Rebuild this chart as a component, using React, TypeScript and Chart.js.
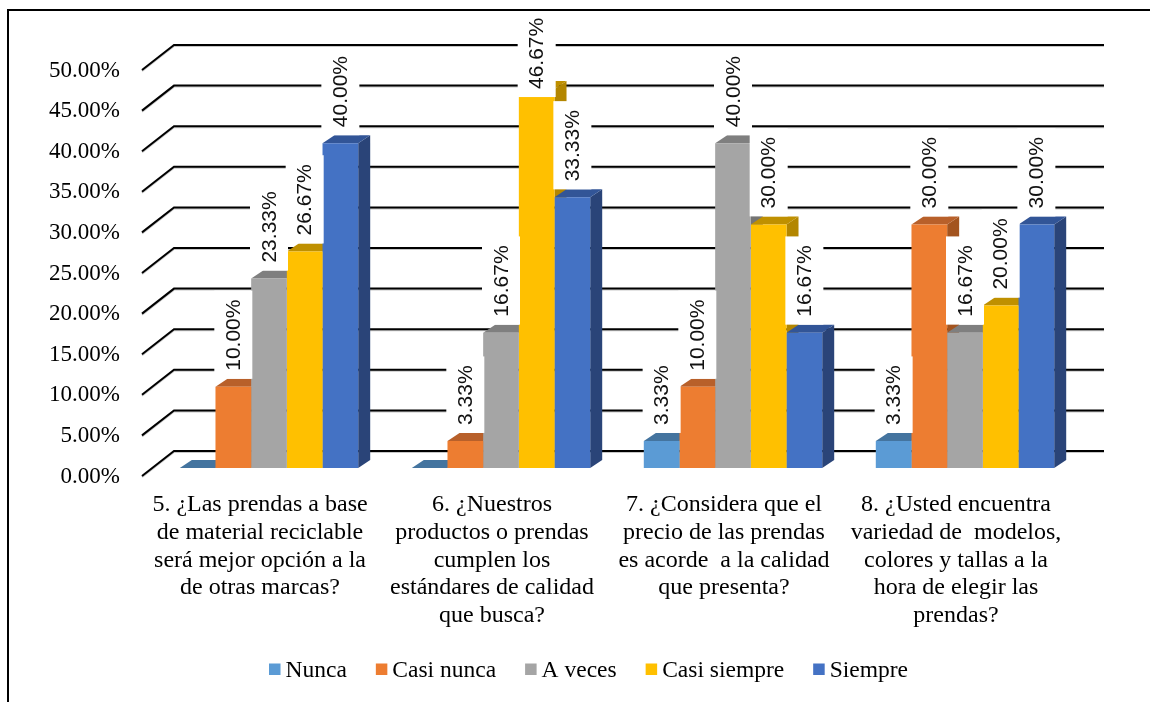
import { useEffect, useRef } from "react";
import Chart from "chart.js/auto";

const categories: string[][] = [
  ["5. ¿Las prendas a base", "de material reciclable", "será mejor opción a la", "de otras marcas?"],
  ["6. ¿Nuestros", "productos o prendas", "cumplen los", "estándares de calidad", "que busca?"],
  ["7. ¿Considera que el", "precio de las prendas", "es acorde  a la calidad", "que presenta?"],
  ["8. ¿Usted encuentra", "variedad de  modelos,", "colores y tallas a la", "hora de elegir las", "prendas?"],
];

const nunca = [0, 0, 3.33, 3.33];
const casiNunca = [10, 3.33, 10, 30];
const aVeces = [23.33, 16.67, 40, 16.67];
const casiSiempre = [26.67, 46.67, 30, 20];
const siempre = [40, 33.33, 16.67, 30];

const yTicksMax = 50;
const yTickStep = 5;

const SERIF = '"Liberation Serif", serif';
const SANS = '"Liberation Sans", sans-serif';

// Front, top and side colours of each column.
const series = [
  { label: "Nunca", values: nunca, front: "#5b9bd5", top: "#44749f", side: "#3f6d95" },
  { label: "Casi nunca", values: casiNunca, front: "#ed7d31", top: "#b8602a", side: "#a3541f" },
  { label: "A veces", values: aVeces, front: "#a5a5a5", top: "#7f7f7f", side: "#747474" },
  { label: "Casi siempre", values: casiSiempre, front: "#ffc000", top: "#bf9000", side: "#b38600" },
  { label: "Siempre", values: siempre, front: "#4472c4", top: "#325597", side: "#2a4478" },
];

// Depth of a column, in pixels.
const DEPTH_X = 12;
const DEPTH_Y = 8;

// Value labels that sit lower than the rest: "dataset:category" -> pixels.
const labelDrop: Record<string, number> = { "3:1": 16 };

const formatPct = (v: number) => v.toFixed(2) + "%";

const wallPlugin = {
  id: "wall",
  beforeDatasetsDraw(chart: any) {
    const { ctx, chartArea, scales } = chart;
    const drawLines = (offset: number, color: string) => {
      ctx.save();
      ctx.strokeStyle = color;
      ctx.lineWidth = 2;
      for (const tick of scales.y.ticks) {
        const y = scales.y.getPixelForValue(tick.value) + offset;
        ctx.beginPath();
        ctx.moveTo(chartArea.left - 11, y + 8);
        ctx.lineTo(chartArea.left + 21, y - 17);
        ctx.lineTo(chartArea.right + 23, y - 17);
        ctx.stroke();
      }
      ctx.restore();
    };
    drawLines(1, "rgba(0,0,0,0.22)");
    drawLines(0, "#000");
  },
};

// Top and side faces go down first, left to right, so a column's side is hidden
// by whatever stands next to it; the library then paints the front faces on top.
const depthPlugin = {
  id: "depth",
  beforeDatasetsDraw(chart: any) {
    const { ctx } = chart;
    ctx.save();
    series.forEach((style, index) => {
      for (const bar of chart.getDatasetMeta(index).data) {
        const left = bar.x - bar.width / 2;
        const right = bar.x + bar.width / 2;
        const top = bar.y;
        const base = bar.base;
        ctx.fillStyle = style.side;
        ctx.beginPath();
        ctx.moveTo(right, top);
        ctx.lineTo(right + DEPTH_X, top - DEPTH_Y);
        ctx.lineTo(right + DEPTH_X, base - DEPTH_Y);
        ctx.lineTo(right, base);
        ctx.closePath();
        ctx.fill();
        ctx.fillStyle = style.top;
        ctx.beginPath();
        ctx.moveTo(left, top);
        ctx.lineTo(left + DEPTH_X, top - DEPTH_Y);
        ctx.lineTo(right + DEPTH_X, top - DEPTH_Y);
        ctx.lineTo(right, top);
        ctx.closePath();
        ctx.fill();
      }
    });
    ctx.restore();
  },
};

const valueLabelPlugin = {
  id: "valueLabels",
  afterDatasetsDraw(chart: any) {
    const { ctx } = chart;
    ctx.save();
    ctx.font = `21px ${SANS}`;
    chart.data.datasets.forEach((dataset: any, di: number) => {
      const bars = chart.getDatasetMeta(di).data;
      dataset.data.forEach((value: number, ci: number) => {
        if (value === 0) return;
        const bar = bars[ci];
        const text = formatPct(value);
        const textWidth = ctx.measureText(text).width;
        const drop = labelDrop[`${di}:${ci}`] ?? 0;
        const bottom = bar.y - DEPTH_Y + drop;
        const height = textWidth + 17;
        ctx.fillStyle = "#fff";
        ctx.fillRect(bar.x - 19, bottom - height, 38, height);
        ctx.save();
        ctx.translate(bar.x + 1, bottom - 8 - textWidth / 2);
        ctx.rotate(-Math.PI / 2);
        ctx.fillStyle = "#111";
        ctx.textAlign = "center";
        ctx.textBaseline = "middle";
        ctx.fillText(text, 0, 0);
        ctx.restore();
      });
    });
    ctx.restore();
  },
};

const legendAndFramePlugin = {
  id: "legendAndFrame",
  afterDraw(chart: any) {
    const { ctx, width, height } = chart;
    ctx.save();
    ctx.font = `23.5px ${SERIF}`;
    const boxSize = 11.5;
    const boxGap = 5;
    const itemGap = 29;
    const widths = series.map((s) => ctx.measureText(s.label).width);
    const total =
      widths.reduce((a, b) => a + b + boxSize + boxGap, 0) + itemGap * (series.length - 1);
    let x = 588.5 - total / 2;
    const y = 669;
    ctx.textBaseline = "middle";
    ctx.textAlign = "left";
    series.forEach((s, i) => {
      ctx.fillStyle = s.front;
      ctx.fillRect(x, y - 5.5, boxSize, boxSize);
      ctx.fillStyle = "#000";
      ctx.fillText(s.label, x + boxSize + boxGap, y + 1.5);
      x += boxSize + boxGap + widths[i] + itemGap;
    });

    // Outer frame: top and left edges only.
    ctx.strokeStyle = "#000";
    ctx.lineWidth = 2;
    ctx.beginPath();
    ctx.moveTo(width, 10);
    ctx.lineTo(8, 10);
    ctx.lineTo(8, height);
    ctx.stroke();
    ctx.restore();
  },
};

export default function App() {
  const canvasRef = useRef<HTMLCanvasElement>(null);

  useEffect(() => {
    const chart = new Chart(canvasRef.current as HTMLCanvasElement, {
      type: "bar",
      data: {
        labels: categories,
        datasets: series.map((s) => ({
          label: s.label,
          data: s.values,
          backgroundColor: s.front,
          borderWidth: 0,
          categoryPercentage: 0.769,
          barPercentage: 1,
        })),
      },
      options: {
        animation: false,
        responsive: false,
        layout: { padding: { top: 62, right: 69, left: 0, bottom: 0 } },
        plugins: { legend: { display: false }, title: { display: false }, tooltip: { enabled: false } },
        scales: {
          x: {
            grid: { display: false, drawTicks: false },
            border: { display: false },
            afterFit: (scale: any) => {
              scale.height = 234;
            },
            ticks: {
              autoSkip: false,
              maxRotation: 0,
              minRotation: 0,
              padding: 23,
              labelOffset: -9,
              color: "#000",
              font: { family: SERIF, size: 24, lineHeight: 1.155 },
            },
          },
          y: {
            min: 0,
            max: yTicksMax,
            grid: { display: false, drawTicks: false },
            border: { display: false },
            afterFit: (scale: any) => {
              scale.width = 153;
            },
            ticks: {
              stepSize: yTickStep,
              padding: 33,
              labelOffset: 8.5,
              color: "#000",
              font: { family: SERIF, size: 23 },
              callback: (v: any) => formatPct(Number(v)),
            },
          },
        },
      },
      plugins: [wallPlugin, depthPlugin, valueLabelPlugin, legendAndFramePlugin],
    } as any);
    return () => chart.destroy();
  }, []);

  return (
    <div style={{ position: "absolute", left: 0, top: 0 }}>
      <canvas ref={canvasRef} width={1150} height={702} style={{ display: "block" }} />
    </div>
  );
}
